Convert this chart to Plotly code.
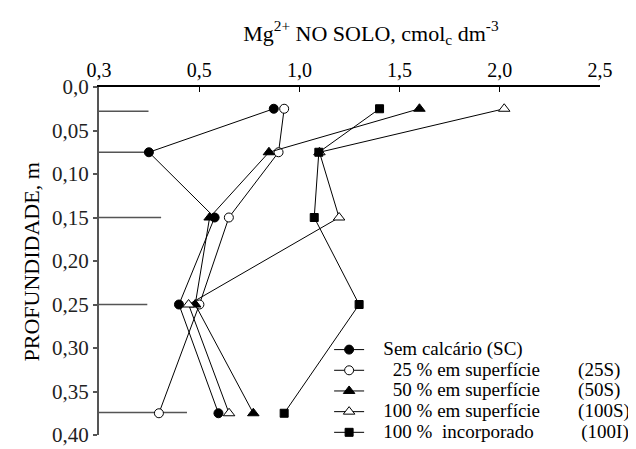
import plotly.graph_objects as go

# ---- data (x in axis units; first tick labelled "0,3" sits at the origin) ----
depth = [0.025, 0.075, 0.15, 0.25, 0.375]
sc = [0.872, 0.249, 0.577, 0.399, 0.596]
s25 = [0.924, 0.896, 0.648, 0.501, 0.299]
s50 = [1.599, 0.848, 0.552, 0.480, 0.770]
s100 = [2.022, 1.100, 1.198, 0.447, 0.649]
i100 = [1.400, 1.097, 1.074, 1.298, 0.924]

# DMS / LSD bars drawn from the depth axis
lsd_depth = [0.028, 0.075, 0.15, 0.25, 0.374]
lsd_value = [0.247, 0.245, 0.310, 0.241, 0.439]

x_tickvals = [0, 0.5, 1.0, 1.5, 2.0, 2.5]
x_ticktext = ["0,3", "0,5", "1,0", "1,5", "2,0", "2,5"]
y_tickvals = [0, 0.05, 0.10, 0.15, 0.20, 0.25, 0.30, 0.35, 0.40]
y_ticktext = ["0,0", "0,05", "0,10", "0,15", "0,20", "0,25", "0,30", "0,35", "0,40"]

NB = "\u00a0"
series_names = [
    NB * 3 + "Sem calcário (SC)",
    NB * 5 + "25 % em superfície" + NB * 8 + "(25S)",
    NB * 5 + "50 % em superfície" + NB * 8 + "(50S)",
    NB * 3 + "100 % em superfície" + NB * 8 + "(100S)",
    NB * 3 + "100 %" + NB * 2 + "incorporado" + NB * 10 + "(100I)",
]
series_values = [sc, s25, s50, s100, i100]
symbols = ["circle", "circle", "triangle-up", "triangle-up", "square"]
fills = ["black", "white", "black", "white", "black"]
sizes = [9, 9, 10, 10, 8]

FONT = "'Liberation Serif', 'Times New Roman', Times, serif"

fig = go.Figure()

lx, ly = [], []
for d, v in zip(lsd_depth, lsd_value):
    lx += [0, v, None]
    ly += [d, d, None]
fig.add_trace(go.Scatter(x=lx, y=ly, mode="lines",
                         line=dict(color="#555555", width=1.5),
                         showlegend=False, hoverinfo="skip"))

for name, vals, sym, fc, sz in zip(series_names, series_values, symbols, fills, sizes):
    fig.add_trace(go.Scatter(
        x=vals, y=depth, mode="lines+markers",
        name='<span style="font-size:19px">' + name + "</span>",
        line=dict(color="black", width=1),
        marker=dict(symbol=sym, size=sz, color=fc,
                    line=dict(color="black", width=1)),
    ))

fig.update_layout(
    width=636, height=449,
    margin=dict(l=91, r=29, t=79, b=9),
    paper_bgcolor="white", plot_bgcolor="white",
    font=dict(family=FONT, size=20, color="black"),
    title=dict(text="Mg<sup>2+</sup> NO SOLO, cmol<sub>c</sub> dm<sup>-3</sup>",
               x=(371 - 91) / 516, xref="paper", xanchor="center",
               y=1 - 25 / 449, yanchor="middle",
               font=dict(family=FONT, size=22, color="black")),
    xaxis=dict(side="top", range=[0, 2.5], tickvals=x_tickvals, ticktext=x_ticktext,
               showline=True, linecolor="black", linewidth=1.5,
               ticks="inside", ticklen=5, tickwidth=1.2, tickcolor="black",
               showgrid=False, zeroline=False,
               tickfont=dict(family=FONT, size=20, color="black")),
    yaxis=dict(range=[0.40, 0.0], tickvals=y_tickvals, ticktext=y_ticktext,
               showline=True, linecolor="#555555", linewidth=2,
               ticks="outside", ticklen=4, tickwidth=1.5, tickcolor="#555555",
               showgrid=False, zeroline=False,
               tickfont=dict(family=FONT, size=21, color="#222222")),
    legend=dict(x=(328 - 91) / 516, xanchor="left",
                y=1 - (335.5 - 79) / 361, yanchor="top",
                bgcolor="rgba(0,0,0,0)", borderwidth=0,
                font=dict(family=FONT, size=13.6, color="black")),
    annotations=[dict(text="PROFUNDIDADE, m", textangle=-90,
                      xref="paper", yref="paper",
                      x=(21 - 91) / 516, y=1 - (261 - 79) / 361,
                      xanchor="center", yanchor="middle", showarrow=False,
                      font=dict(family=FONT, size=22, color="black"))],
)

fig.write_html("out.html", config={"displayModeBar": False})
